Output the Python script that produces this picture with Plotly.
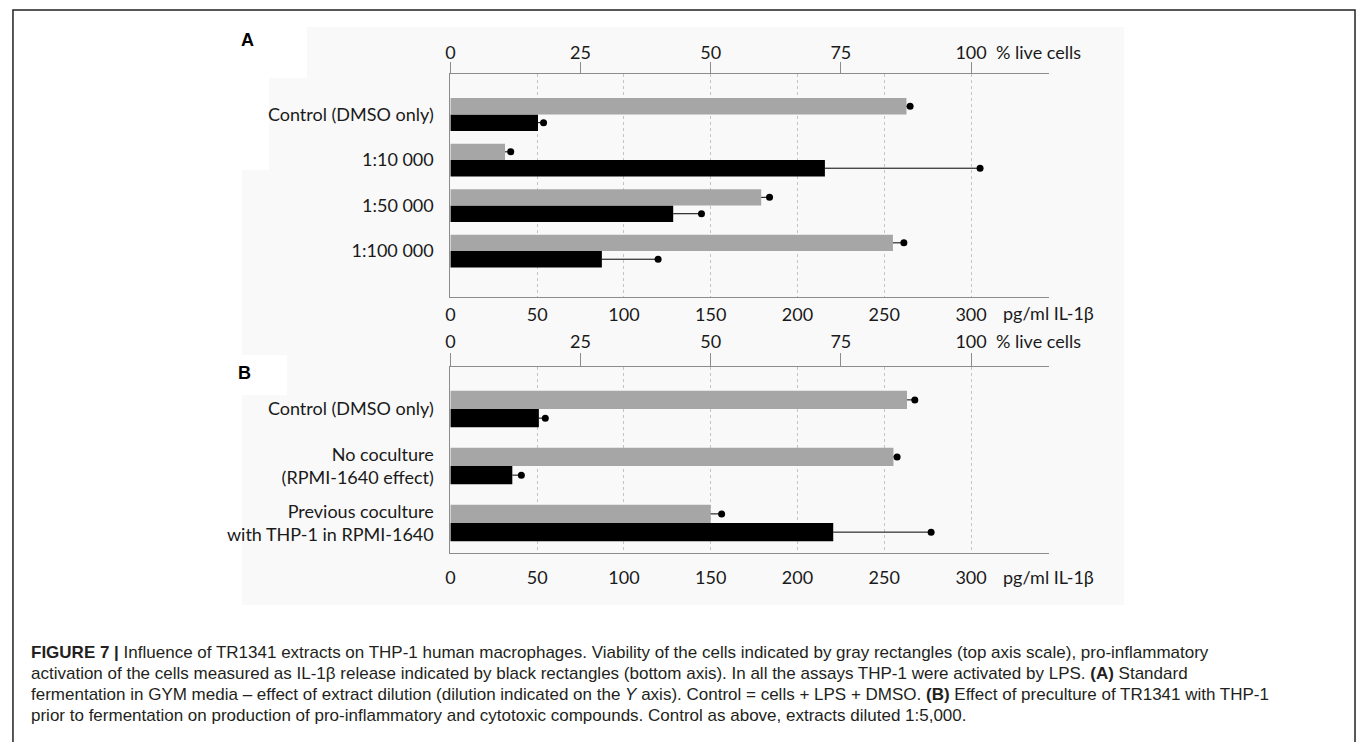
import plotly.graph_objects as go

# ---------------- data ----------------
cats_a = ["Control (DMSO only)", "1:10 000", "1:50 000", "1:100 000"]
live_a = [87.6, 10.5, 59.7, 85.0]          # % live cells (top axis)
live_a_err = [0.7, 1.1, 1.6, 2.1]
il_a = [50.5, 215.8, 128.4, 87.3]          # pg/ml IL-1b (bottom axis)
il_a_err = [3.2, 89.4, 16.3, 32.4]

cats_b = ["Control (DMSO only)", "No coculture<br>(RPMI-1640 effect)",
          "Previous coculture<br>with THP-1 in RPMI-1640"]
live_b = [87.7, 85.1, 50.0]
live_b_err = [1.5, 0.7, 2.1]
il_b = [51.0, 35.7, 220.6]
il_b_err = [3.7, 5.2, 56.4]

il_ticks = [0, 50, 100, 150, 200, 250, 300]
live_ticks = [0, 25, 50, 75, 100]
IL_MAX = 345
LIVE_MAX = 115

caption = [
    "<b>FIGURE 7 |</b> Influence of TR1341 extracts on THP-1 human macrophages. Viability of the cells indicated by gray rectangles (top axis scale), pro-inflammatory",
    "activation of the cells measured as IL-1β release indicated by black rectangles (bottom axis). In all the assays THP-1 were activated by LPS. <b>(A)</b> Standard",
    "fermentation in GYM media – effect of extract dilution (dilution indicated on the <i>Y</i> axis). Control = cells + LPS + DMSO. <b>(B)</b> Effect of preculture of TR1341 with THP-1",
    "prior to fermentation on production of pro-inflammatory and cytotoxic compounds. Control as above, extracts diluted 1:5,000.",
]

W, H = 1358, 742
def px(x):
    return x / W
def py(y):
    return 1 - y / H

FONT = "Lato, Carlito, Calibri, sans-serif"
CAP_FONT = "Liberation Sans Narrow, Arial Narrow, Liberation Sans, Arial, sans-serif"
GRAY = "#a6a6a6"
AXC = "#8c8c8c"
GRID = "#c4c4c4"
DASH = "3px,3px"

fig = go.Figure()

def add_panel(cats, live, live_err, il, il_err, xb, xt, yr, bw):
    pos = list(range(len(cats)))
    fig.add_trace(go.Bar(
        y=pos, x=live, orientation="h", xaxis=xt, yaxis=yr,
        marker=dict(color=GRAY, line=dict(width=0)),
        offset=-bw, width=bw,
        error_x=dict(type="data", symmetric=False, array=live_err,
                     arrayminus=[0] * len(live), color="#000", thickness=1, width=0),
        showlegend=False))
    fig.add_trace(go.Bar(
        y=pos, x=il, orientation="h", xaxis=xb, yaxis=yr,
        marker=dict(color="#000000", line=dict(width=0)),
        offset=0, width=bw,
        error_x=dict(type="data", symmetric=False, array=il_err,
                     arrayminus=[0] * len(il), color="#000", thickness=1, width=0),
        showlegend=False))
    # round dot at the end of each error bar
    fig.add_trace(go.Scatter(
        y=[p - bw / 2 for p in pos], x=[v + e for v, e in zip(live, live_err)],
        mode="markers", xaxis=xt, yaxis=yr, marker=dict(color="#000", size=7),
        showlegend=False, hoverinfo="skip"))
    fig.add_trace(go.Scatter(
        y=[p + bw / 2 for p in pos], x=[v + e for v, e in zip(il, il_err)],
        mode="markers", xaxis=xb, yaxis=yr, marker=dict(color="#000", size=7),
        showlegend=False, hoverinfo="skip"))

BW_A = 0.36
BW_B = 0.32
add_panel(cats_a, live_a, live_a_err, il_a, il_a_err, "x", "x2", "y", BW_A)
add_panel(cats_b, live_b, live_b_err, il_b, il_b_err, "x3", "x4", "y2", BW_B)

xa_dom = [px(447), px(1048)]
ya_dom = [py(297), py(74)]
yb_dom = [py(553), py(367)]

tickfont = dict(family=FONT, size=18, color="#1a1a1a")

def bottom_axis(anchor, standoff):
    return dict(domain=xa_dom, anchor=anchor, range=[0, IL_MAX], tickvals=il_ticks,
                showgrid=True, gridcolor=GRID, griddash=DASH, gridwidth=1,
                showline=True, linecolor=AXC, linewidth=1, zeroline=False,
                ticks="", ticklabelstandoff=standoff, tickfont=tickfont, fixedrange=True)

def top_axis(overlay, anchor, ticklen, standoff):
    return dict(overlaying=overlay, anchor=anchor, side="top", range=[0, LIVE_MAX],
                tickvals=live_ticks, showgrid=False, showline=True, linecolor=AXC,
                linewidth=1, zeroline=False, ticks="outside", ticklen=ticklen,
                tickcolor=AXC, tickwidth=1, tickfont=tickfont, ticklabelstandoff=standoff,
                fixedrange=True)

def y_axis(dom, rng, cats, anchor):
    return dict(domain=dom, anchor=anchor, range=rng, showline=True, linecolor=AXC,
                linewidth=1, ticks="", tickfont=tickfont, showgrid=False,
                zeroline=False, ticklabelstandoff=12, fixedrange=True,
                tickmode="array", tickvals=list(range(len(cats))), ticktext=cats)

fig.update_layout(
    width=W, height=H, margin=dict(l=0, r=0, t=0, b=0),
    paper_bgcolor="white", plot_bgcolor="rgba(0,0,0,0)",
    barmode="overlay",
    xaxis=bottom_axis("y", 1),
    xaxis2=top_axis("x", "y", 11, -4),
    xaxis3=bottom_axis("y2", 8),
    xaxis4=top_axis("x3", "y2", 13, -2),
    yaxis=y_axis(ya_dom, [4.01, -0.89], cats_a, "x"),
    yaxis2=y_axis(yb_dom, [2.526, -0.737], cats_b, "x3"),
)

# right-hand dashed border of each panel
for xr, yr in [("x", "y"), ("x3", "y2")]:
    fig.add_shape(type="line", xref=xr, yref=yr + " domain", x0=IL_MAX, x1=IL_MAX,
                  y0=0, y1=1, line=dict(color=GRID, width=1, dash=DASH), layer="below")

# faint grey background of the original figure image
BG = "#f9f9f9"
for (x0, y0, x1, y1) in [(303, 27, 1123, 605), (265, 78, 1123, 605), (238, 170, 1123, 605)]:
    fig.add_shape(type="rect", xref="paper", yref="paper", x0=px(x0), x1=px(x1),
                  y0=py(y1), y1=py(y0), fillcolor=BG, line=dict(width=0), layer="below")
fig.add_shape(type="rect", xref="paper", yref="paper", x0=px(238), x1=px(283),
              y0=py(395), y1=py(355), fillcolor="white", line=dict(width=0), layer="below")

# outer frame
fig.add_shape(type="rect", xref="paper", yref="paper", x0=px(8), x1=px(1355),
              y0=py(760), y1=py(10), line=dict(color="#222", width=1.5), fillcolor="rgba(0,0,0,0)")

ann = []
def label(text, x, y, size=18, family=FONT, xanchor="left", color="#1a1a1a"):
    ann.append(dict(text=text, x=px(x), y=py(y), xref="paper", yref="paper",
                    xanchor=xanchor, yanchor="middle", showarrow=False,
                    font=dict(family=family, size=size, color=color)))

label("<b>A</b>", 235, 40, size=18, family="Liberation Sans, Arial, sans-serif", color="#000")
label("<b>B</b>", 232, 373, size=18, family="Liberation Sans, Arial, sans-serif", color="#000")
label("% live cells", 993, 52)
label("pg/ml IL-1β", 1000, 313)
label("% live cells", 993, 341)
label("pg/ml IL-1β", 1000, 577)

for i, line in enumerate(caption):
    label(line, 24, 652 + i * 21, size=17, family=CAP_FONT, color="#231f20")

fig.update_layout(annotations=ann)

fig.write_html("out.html", post_script="document.body.style.margin='0';",
               config={"displayModeBar": False})
